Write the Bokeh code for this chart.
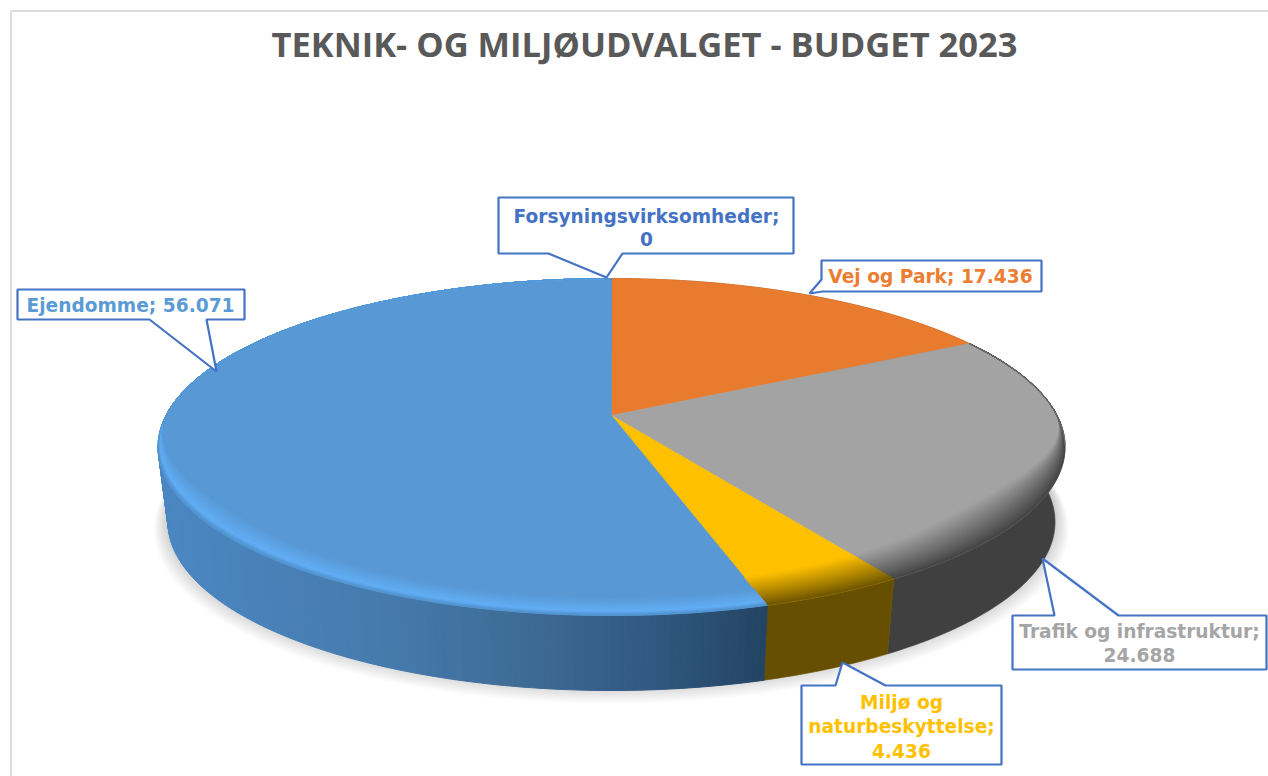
import numpy as np
from bokeh.plotting import figure
from bokeh.models import Range1d
from bokeh.core.properties import value
from bokeh.embed import file_html
from bokeh.resources import INLINE

# ---------- data ----------
categories = ["Forsyningsvirksomheder", "Vej og Park", "Trafik og infrastruktur",
              "Miljø og naturbeskyttelse", "Ejendomme"]
values = [0, 17.436, 24.688, 4.436, 56.071]
top_colors = ["#4472c4", "#e97b2f", "#a3a3a3", "#ffc000", "#5898d4"]
text_colors = ["#4472c4", "#ed7d31", "#a5a5a5", "#ffc000", "#5b9bd5"]
title_text = "TEKNIK- OG MILJØUDVALGET - BUDGET 2023"
label_lines = [
    ["Forsyningsvirksomheder;", "0"],
    ["Vej og Park; 17.436"],
    ["Trafik og infrastruktur;", "24.688"],
    ["Miljø og", "naturbeskyttelse;", "4.436"],
    ["Ejendomme; 56.071"],
]

# ---------- projection of the 3D disc (page pixels, y downwards) ----------
CX, CY, BX, AY, K = 611.0, 415.0, 445.5, 162.6, 0.187
DEPTH = 75.0


def rim(theta, r=1.0):
    r = np.asarray(r, float)
    X, Y = r * np.sin(theta), -r * np.cos(theta)
    d = 1 - K * Y
    return CX + BX * X / d, CY + AY * Y / d


def lower(x, y):
    return CX + 0.978 * (x - CX), y + DEPTH


def hex2rgb(h):
    return np.array([int(h[i:i + 2], 16) for i in (1, 3, 5)], float)


def mix(a, b, t):
    c = hex2rgb(a) * (1 - t) + hex2rgb(b) * t
    return "#%02x%02x%02x" % tuple(int(round(v)) for v in c)


p = figure(width=1268, height=776, output_backend="svg", toolbar_location=None,
           x_range=Range1d(0, 1268), y_range=Range1d(776, 0),
           min_border=0, outline_line_color=None, background_fill_color="white")
p.axis.visible = False
p.grid.visible = False

# chart frame
p.line([1268, 10.5, 10.5], [10.5, 10.5, 776], line_color="#dcdcdc", line_width=2)

# soft shadow
th = np.linspace(0, 2 * np.pi, 240)
rx, ry = rim(th)
bx, by = lower(rx, ry)
for i in range(12, 0, -1):
    s = 1 + i * 0.0026
    p.patch(CX + s * (bx - CX), by - 6 + (by - by.mean()) * (s - 1) + i * 1.1,
            fill_color="#000000", fill_alpha=0.016, line_color=None)

# wedge angles from the values
edges = np.cumsum([0] + values) / sum(values) * 2 * np.pi

blue_stops_x = [165, 400, 530, 660, 765]
blue_stops_c = ["#4b87c2", "#4579aa", "#3d6a94", "#30577f", "#234463"]
flat_wall = {1: "#8a4a1c", 2: "#404040", 3: "#664f00"}

for i in range(len(values)):
    if values[i] == 0:
        continue
    n = max(2, int((edges[i + 1] - edges[i]) / np.radians(0.8)))
    t = np.linspace(edges[i], edges[i + 1], n + 1)
    x, y = rim(t)
    xb, yb = lower(x, y)
    if i in flat_wall:
        c = flat_wall[i]
        p.patch(np.r_[x, xb[::-1]], np.r_[y, yb[::-1]], fill_color=c, line_color=c, line_width=0.6)
    else:
        wx, wy, wc = [], [], []
        for k in range(n):
            wx.append([x[k], x[k + 1], xb[k + 1], xb[k]])
            wy.append([y[k], y[k + 1], yb[k + 1], yb[k]])
            pos = np.interp((x[k] + x[k + 1]) / 2, blue_stops_x, range(len(blue_stops_x)))
            j = min(int(pos), len(blue_stops_c) - 2)
            wc.append(mix(blue_stops_c[j], blue_stops_c[j + 1], pos - j))
        p.patches(wx, wy, fill_color=wc, line_color=wc, line_width=1.0)

# flat top faces
for i in range(len(values)):
    if values[i] == 0:
        continue
    t = np.linspace(edges[i], edges[i + 1], 200)
    x, y = rim(t)
    p.patch(np.r_[CX, x], np.r_[CY, y], fill_color=top_colors[i],
            line_color=top_colors[i], line_width=0.6)

# bevel along the front rim: bands run toward the centre so wedge edges stay straight
bevel = {
    2: (0.125, lambda u: mix("#424242", "#a3a3a3", min(1, u ** 0.9))),
    3: (0.125, lambda u: mix("#6a5300", "#ffc000", min(1, u ** 0.9))),
    4: (0.075, lambda u: mix("#62aef5", "#5898d4", min(1, max(0, (u - 0.2) / 0.8))) if u > 0.2
        else mix("#4f90cc", "#62aef5", u / 0.2)),
}
BANDS = 16
for i, (w, col) in bevel.items():
    n = max(2, int((edges[i + 1] - edges[i]) / np.radians(0.7)))
    t = np.linspace(edges[i], edges[i + 1], n + 1)
    Y = -np.cos(t)
    g = np.clip((Y + 0.02) / 0.7, 0, 1)
    g = g * g * (3 - 2 * g)
    for b in range(BANDS - 1, -1, -1):
        u0, u1 = b / BANDS, (b + 1) / BANDS
        xo, yo = rim(t, 1 - w * g * u0)
        xi, yi = rim(t, 1 - w * g * u1)
        c = col((u0 + u1) / 2)
        p.patch(np.r_[xo, xi[::-1]], np.r_[yo, yi[::-1]], fill_color=c, line_color=c, line_width=0.8)

# thin dark edge on the grey wedge's back rim
t = np.linspace(edges[2], np.radians(100), 60)
x, y = rim(t)
p.line(x, y, line_color="#6a6a6a", line_width=1.3)

# ---------- call-outs ----------
callouts = [
    ([498, 793, 793, 622, 606, 548, 498], [197, 197, 253, 253, 277, 253, 253]),
    ([821, 1041, 1041, 822, 809, 821], [260, 260, 291, 291, 293, 279]),
    ([1012, 1054, 1042, 1118, 1266, 1266, 1012], [615, 615, 558, 615, 615, 669, 669]),
    ([801, 835, 842, 885, 1001, 1001, 801], [685, 685, 662, 685, 685, 764, 764]),
    ([17, 244, 244, 206, 216, 149, 17], [289, 289, 319, 319, 371, 319, 319]),
]
for cx_, cy_ in callouts:
    p.patch(cx_, cy_, fill_color="white", line_color="#4472c4", line_width=2.2)

anchor_x = [646, 930, 1139, 901, 130]
anchor_y = [[216, 238], [276], [631, 654], [702, 726, 750], [305]]
for i, lines in enumerate(label_lines):
    p.text([anchor_x[i]] * len(lines), anchor_y[i], text=lines,
           text_font=value("DejaVu Sans"), text_font_style="bold",
           text_font_size=value("18.6px"), text_color=text_colors[i],
           text_align="center", text_baseline="middle")

p.text([644], [43], text=[title_text], text_font=value("Open Sans"), text_font_style="bold",
       text_font_size=value("34.5px"), text_color="#595959",
       text_align="center", text_baseline="middle")

open("out.html", "w").write(file_html(p, INLINE))
